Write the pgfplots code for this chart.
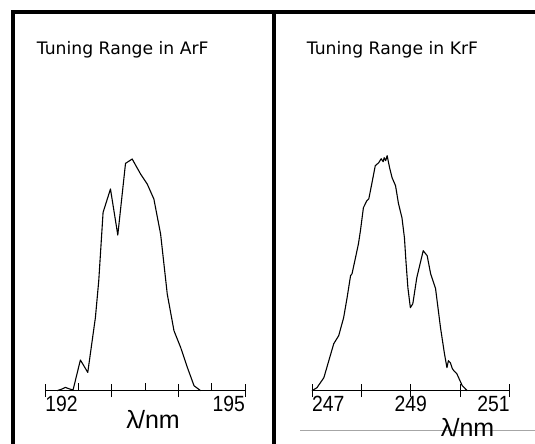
\documentclass[border=0pt]{standalone}
\usepackage{pgfplots}
\pgfplotsset{compat=1.18}
\usepackage{fontspec}
\setmainfont{Liberation Sans}
\newfontfamily\titlefont{DejaVu Sans}
\newfontfamily\tickfont[FakeStretch=0.88]{Liberation Sans}

\pgfplotsset{
  panel/.style={
    scale only axis,
    height=250pt,
    ymin=0, ymax=250,
    axis x line=bottom,
    axis y line=none,
    axis line style={-, line width=1.1pt, black},
    tick align=center,
    major tick length=13pt,
    tick style={line width=1pt, black},
    xticklabel style={font=\tickfont\fontsize{22}{22}\selectfont, inner sep=0pt, yshift=1.5pt},
    clip=false,
  },
  curve/.style={black, line width=1.1pt, no marks, line join=round},
}

\begin{document}
\begin{tikzpicture}
\useasboundingbox (0pt,0pt) rectangle (535pt,444pt);
% frame lines
\draw[line width=3.5pt] (11.25pt,432pt) -- (535pt,432pt);
\draw[line width=3.5pt] (13pt,433.75pt) -- (13pt,0pt);
\draw[line width=3.5pt] (273.8pt,433.75pt) -- (273.8pt,0pt);
\draw[line width=0.8pt, gray!70] (300pt,14pt) -- (535pt,14pt);

% titles
\node[anchor=base west, inner sep=0pt, font=\titlefont\fontsize{17.2}{17.2}\selectfont] at (36.7pt,389pt) {Tuning Range in ArF};
\node[anchor=base west, inner sep=0pt, font=\titlefont\fontsize{17.2}{17.2}\selectfont] at (306.7pt,389pt) {Tuning Range in KrF};

% left panel: ArF
\begin{axis}[panel,
  at={(45.3pt,53.3pt)}, anchor=south west,
  width=199.7pt,
  xmin=192, xmax=195,
  xtick={192,193,194,195},
  xticklabels={\rlap{192},,,\llap{195}},
  extra x ticks={192.5,193.5,194.5},
  extra x tick labels={},
  extra x tick style={tick align=inside, major tick length=8pt},
]
\addplot[curve] coordinates {
(192.176,0) (192.251,1.7) (192.301,3.3) (192.366,1.7) (192.417,0.7)
(192.527,30.7) (192.638,18.3) (192.753,73.3) (192.803,110) (192.868,178.3)
(192.979,201.7) (193.089,155.7) (193.205,227.3) (193.305,231.7) (193.431,216.7)
(193.531,206.7) (193.631,191.7) (193.732,156.7) (193.832,96.7) (193.933,60)
(194.033,43.3) (194.134,23.3) (194.234,5) (194.334,0)
};
\end{axis}

% right panel: KrF
\begin{axis}[panel,
  at={(312pt,53.3pt)}, anchor=south west,
  width=197.7pt,
  xmin=247, xmax=251,
  xtick={247,248,249,250,251},
  xticklabels={\rlap{247},,249,,\llap{251}},
]
\addplot[curve] coordinates {
(247.00,0) (247.10,3) (247.24,13) (247.34,30) (247.44,47) (247.54,55)
(247.64,73) (247.71,93) (247.78,115) (247.81,117) (247.88,133) (247.94,147)
(247.98,160) (248.04,183) (248.11,190) (248.15,192) (248.21,207) (248.28,225)
(248.35,228) (248.40,232) (248.44,229) (248.46,233) (248.49,230) (248.52,235)
(248.57,223) (248.62,213) (248.69,205) (248.75,187) (248.82,173) (248.87,153)
(248.90,130) (248.94,103) (248.99,83) (249.04,87) (249.12,113) (249.25,140)
(249.33,135) (249.40,117) (249.50,102) (249.60,63) (249.68,37) (249.73,23)
(249.76,30) (249.80,28) (249.84,22) (249.87,20) (249.93,17) (250.04,5) (250.14,0)
};
\end{axis}

% axis labels
\node[anchor=base, inner sep=0pt, font=\fontsize{25}{25}\selectfont] at (153pt,16pt) {λ\kern-0.03em/nm};
\node[anchor=base, inner sep=0pt, font=\fontsize{25}{25}\selectfont] at (467.5pt,7.3pt) {λ\kern-0.03em/nm};
\end{tikzpicture}
\end{document}
